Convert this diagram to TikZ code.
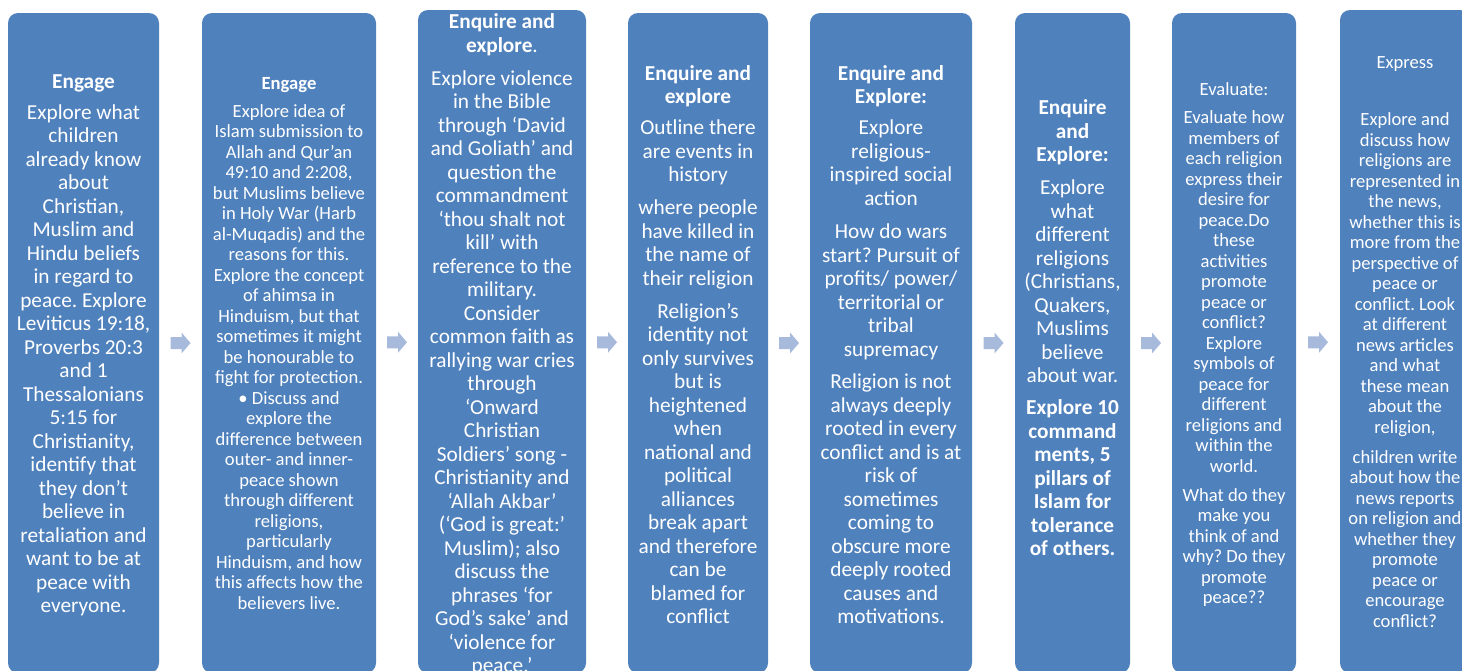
\documentclass[tikz,border=0pt]{standalone}
\usepackage{fontspec}
\setmainfont{Carlito}
\usetikzlibrary{calc}
\definecolor{boxblue}{HTML}{4F81BD}
\definecolor{arrowblue}{HTML}{A7BADC}
\tikzset{
  box/.style={fill=boxblue, draw=none, rounded corners=10pt, inner sep=0pt},
  txt/.style={text=white, align=center, inner sep=0pt},
  big/.style={font=\fontsize{21.3pt}{23.5pt}\selectfont},
  small/.style={font=\fontsize{18.6pt}{20.5pt}\selectfont},
  chev/.style={fill=arrowblue, draw=none}
}
\frenchspacing
\begin{document}
\begin{tikzpicture}[x=1pt,y=-1pt]
\useasboundingbox (0,0) rectangle (1462,670);
% boxes
\node[box, minimum width=151pt, minimum height=660pt] (b1) at (83.5,343) {};
\node[box, minimum width=174pt, minimum height=660pt] (b2) at (289,343) {};
\node[box, minimum width=168pt, minimum height=663pt] (b3) at (502,341.5) {};
\node[box, minimum width=140pt, minimum height=660pt] (b4) at (698,343) {};
\node[box, minimum width=162pt, minimum height=660pt] (b5) at (891,343) {};
\node[box, minimum width=115pt, minimum height=660pt] (b6) at (1072.5,343) {};
\node[box, minimum width=124pt, minimum height=660pt] (b7) at (1234,343) {};
\node[box, minimum width=130pt, minimum height=663pt] (b8) at (1405,341.5) {};
% arrows
\foreach \i/\j in {1/2,2/3,3/4,4/5,5/6,6/7,7/8}{
  \coordinate (a\i) at ($(b\i.east)!0.5!(b\j.west)$);
  \fill[chev] (a\i) ++(-10,-6) -- ++(11,0) -- ++(0,-4.5) -- ++(9,10.5) -- ++(-9,10.5) -- ++(0,-4.5) -- ++(-11,0) -- cycle;
}
% texts
\node[txt, big] (t1) at (83.5,345.5) {\textbf{Engage}\\[7.5pt]
Explore what\\children\\already know\\about\\Christian,\\Muslim and\\Hindu beliefs\\in regard to\\peace. Explore\\Leviticus 19:18,\\Proverbs 20:3\\and 1\\Thessalonians\\5:15 for\\Christianity,\\identify that\\they don’t\\believe in\\retaliation and\\want to be at\\peace with\\everyone.};
\node[txt, small] (t2) at (289,343.5) {\textbf{Engage}\\[7.5pt]
Explore idea of\\Islam submission to\\Allah and Qur’an\\49:10 and 2:208,\\but Muslims believe\\in Holy War (Harb\\al-Muqadis) and the\\reasons for this.\\Explore the concept\\of ahimsa in\\Hinduism, but that\\sometimes it might\\be honourable to\\fight for protection.\\• Discuss and\\explore the\\difference between\\outer- and inner-\\peace shown\\through different\\religions,\\particularly\\Hinduism, and how\\this affects how the\\believers live.};
\node[txt, big] (t3) at (502,345) {\textbf{Enquire and}\\\textbf{explore}.\\[9.5pt]
Explore violence\\in the Bible\\through ‘David\\and Goliath’ and\\question the\\commandment\\‘thou shalt not\\kill’ with\\reference to the\\military.\\Consider\\common faith as\\rallying war cries\\through\\‘Onward\\Christian\\Soldiers’ song -\\Christianity and\\‘Allah Akbar’\\(‘God is great:’\\Muslim); also\\discuss the\\phrases ‘for\\God’s sake’ and\\‘violence for\\peace.’};
\node[txt, big] (t4) at (698,344.5) {\textbf{Enquire and}\\\textbf{explore}\\[7.5pt]
Outline there\\are events in\\history\\[9.5pt]
where people\\have killed in\\the name of\\their religion\\[9.5pt]
Religion’s\\identity not\\only survives\\but is\\heightened\\when\\national and\\political\\alliances\\break apart\\and therefore\\can be\\blamed for\\conflict};
\node[txt, big] (t5) at (891,344.5) {\textbf{Enquire and}\\\textbf{Explore:}\\[7.5pt]
Explore\\religious-\\inspired social\\action\\[10pt]
How do wars\\start? Pursuit of\\profits/ power/\\territorial or\\tribal\\supremacy\\[9pt]
Religion is not\\always deeply\\rooted in every\\conflict and is at\\risk of\\sometimes\\coming to\\obscure more\\deeply rooted\\causes and\\motivations.};
\node[txt, big] (t6) at (1072.5,328) {\textbf{Enquire}\\\textbf{and}\\\textbf{Explore:}\\[9.5pt]
Explore\\what\\different\\religions\\(Christians,\\Quakers,\\Muslims\\believe\\about war.\\[8.5pt]
\textbf{Explore 10}\\\textbf{command}\\\textbf{ments, 5}\\\textbf{pillars of}\\\textbf{Islam for}\\\textbf{tolerance}\\\textbf{of others.}};
\node[txt, small] (t7) at (1234,345) {Evaluate:\\[7.5pt]
Evaluate how\\members of\\each religion\\express their\\desire for\\peace.Do\\these\\activities\\promote\\peace or\\conflict?\\Explore\\symbols of\\peace for\\different\\religions and\\within the\\world.\\[8.5pt]
What do they\\make you\\think of and\\why? Do they\\promote\\peace??};
\node[txt, small] (t8) at (1405,342) {Express\\[36.5pt]
Explore and\\discuss how\\religions are\\represented in\\the news,\\whether this is\\more from the\\perspective of\\peace or\\conflict. Look\\at different\\news articles\\and what\\these mean\\about the\\religion,\\[9.5pt]
children write\\about how the\\news reports\\on religion and\\whether they\\promote\\peace or\\encourage\\conflict?};
\end{tikzpicture}
\end{document}
